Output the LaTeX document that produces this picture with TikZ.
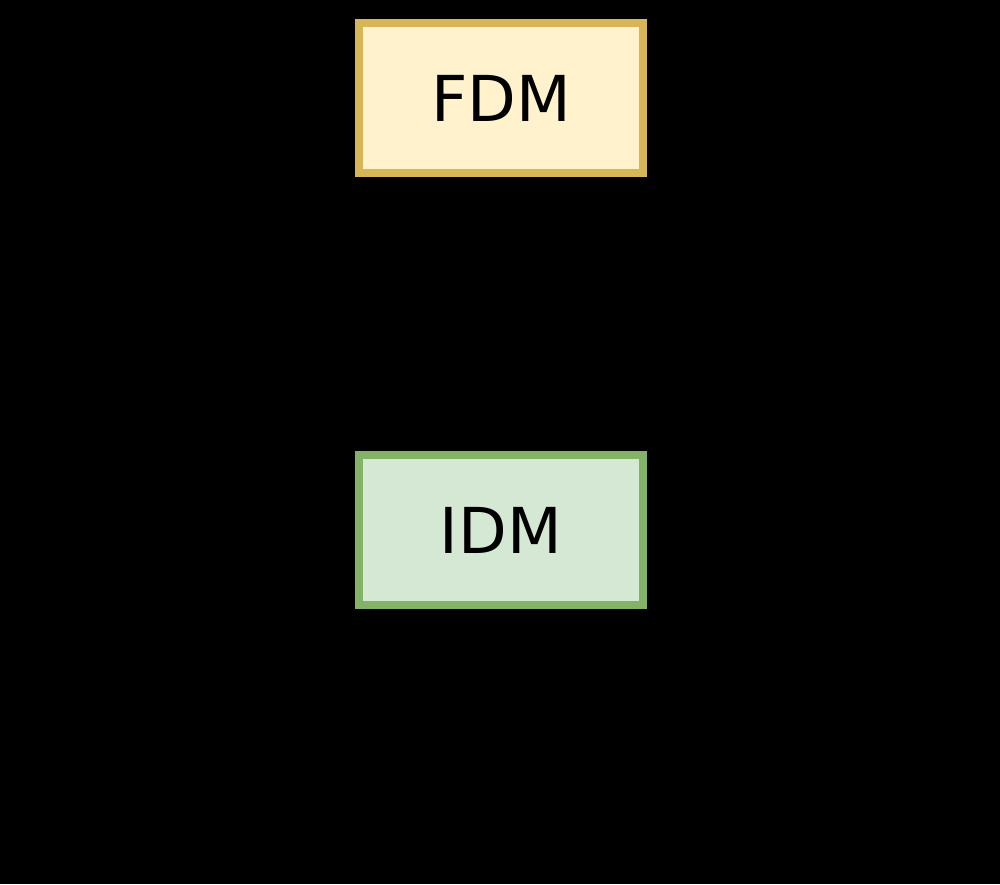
\documentclass[tikz,border=0pt]{standalone}
\usepackage{fontspec}
\setmainfont{DejaVu Sans}
\usetikzlibrary{arrows.meta}
\begin{document}
\begin{tikzpicture}[x=0.01cm,y=-0.01cm,
  box/.style={draw, line width=2.2pt, minimum width=2.84cm, minimum height=1.5cm, inner sep=0pt, font=\fontsize{18}{20}\selectfont},
  conn/.style={draw=black, line width=1pt, -{Stealth[length=6pt]}}]
\fill[black] (0,0) rectangle (1000,884);
\useasboundingbox (0,0) rectangle (1000,884);
\node[box, draw={rgb,255:red,214;green,182;blue,86}, fill={rgb,255:red,255;green,242;blue,204}] (fdm) at (501,98) {FDM};
\node[box, draw={rgb,255:red,130;green,179;blue,102}, fill={rgb,255:red,213;green,232;blue,212}] (idm) at (501,530) {IDM};
\coordinate (r1) at (780,98);
\coordinate (r2) at (780,530);
\draw[conn] (idm) -- (fdm);
\draw[conn] (r1) -- (fdm);
\draw[conn] (r2) -- (idm);
\end{tikzpicture}
\end{document}
